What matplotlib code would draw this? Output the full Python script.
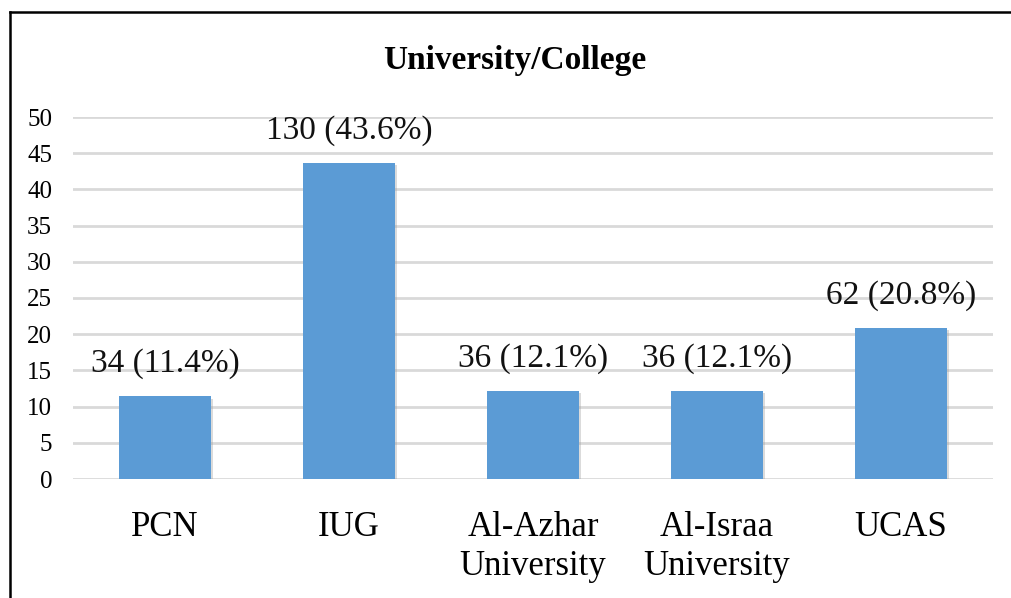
import matplotlib
matplotlib.use("Agg")
import matplotlib.pyplot as plt
from matplotlib.lines import Line2D
import matplotlib.patheffects as pe

categories = ["PCN", "IUG", "Al-Azhar\nUniversity", "Al-Israa\nUniversity", "UCAS"]
counts = [34, 130, 36, 36, 62]
percents = [11.4, 43.6, 12.1, 12.1, 20.8]
yticks = [0, 5, 10, 15, 20, 25, 30, 35, 40, 45, 50]
title = "University/College"

plt.rcParams['font.family'] = ['Liberation Serif', 'DejaVu Serif']

fig = plt.figure(figsize=(10.11, 5.98), dpi=100)
ax = fig.add_axes([73/1011, 1-479/598, (993-73)/1011, (479-117)/598])

x = list(range(len(categories)))
bars = ax.bar(x, percents, width=0.5, color="#5B9BD5", zorder=3)
for b in bars:
    b.set_path_effects([pe.SimplePatchShadow(offset=(1.5, -1.5), shadow_rgbFace="#9a9a9a", alpha=0.35), pe.Normal()])

for xi, c, p in zip(x, counts, percents):
    ax.annotate(f"{c} ({p}%)", (xi, p), xytext=(0, 18), textcoords="offset points",
                ha="center", va="baseline", fontsize=24, color="#111111")

ax.set_xlim(-0.5, len(categories) - 0.5)
ax.set_ylim(0, 50)
ax.set_yticks(yticks)
ax.set_yticklabels([str(t) for t in yticks], fontsize=18)
ax.set_xticks(x)
ax.set_xticklabels(categories, fontsize=25, linespacing=1.25)
ax.tick_params(axis="y", length=0, pad=15)
ax.tick_params(axis="x", length=0, pad=23)
ax.grid(axis="y", color="#D9D9D9", linewidth=2, zorder=0)
for s in ax.spines.values():
    s.set_visible(False)

fig.text(0.509, 1-61/598, title, ha="center", va="center", fontsize=24, fontweight="bold")

fig.add_artist(Line2D([10/1011, 1.0], [1-12/598, 1-12/598], color="black", linewidth=1.8, transform=fig.transFigure))
fig.add_artist(Line2D([10/1011, 10/1011], [0, 1-12/598], color="black", linewidth=1.8, transform=fig.transFigure))

fig.savefig("out.png", dpi=100)
